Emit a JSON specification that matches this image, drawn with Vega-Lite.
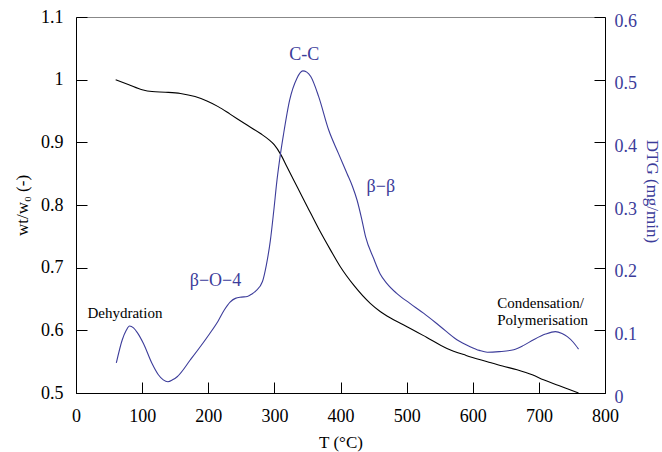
{
  "$schema": "https://vega.github.io/schema/vega-lite/v6.json",
  "width": 529,
  "height": 376,
  "autosize": "none",
  "padding": {"left": 76, "top": 17, "right": 57, "bottom": 59},
  "config": {
    "font": "Liberation Serif",
    "view": {"stroke": "#888888", "strokeWidth": 1},
    "axis": {"grid": false, "titleFontWeight": "normal", "domainColor": "#000000", "tickColor": "#000000", "domainWidth": 1, "tickWidth": 1, "labelFontSize": 18, "titleFontSize": 17, "labelColor": "#000000", "titleColor": "#000000"}
  },
  "datasets": {
    "wt": [
      {"T": 60, "wt": 1.000}, {"T": 80, "wt": 0.992}, {"T": 100, "wt": 0.984}, {"T": 115, "wt": 0.981},
      {"T": 135, "wt": 0.980}, {"T": 158, "wt": 0.978}, {"T": 180, "wt": 0.973}, {"T": 198, "wt": 0.966},
      {"T": 215, "wt": 0.957}, {"T": 233, "wt": 0.945}, {"T": 255, "wt": 0.930}, {"T": 279, "wt": 0.914},
      {"T": 292, "wt": 0.904}, {"T": 300, "wt": 0.896}, {"T": 310, "wt": 0.880}, {"T": 319, "wt": 0.861},
      {"T": 335, "wt": 0.828}, {"T": 350, "wt": 0.797}, {"T": 367, "wt": 0.762}, {"T": 385, "wt": 0.728},
      {"T": 400, "wt": 0.701}, {"T": 420, "wt": 0.672}, {"T": 445, "wt": 0.643}, {"T": 460, "wt": 0.630},
      {"T": 475, "wt": 0.620}, {"T": 495, "wt": 0.609}, {"T": 530, "wt": 0.589}, {"T": 561, "wt": 0.571},
      {"T": 590, "wt": 0.560}, {"T": 622, "wt": 0.550}, {"T": 645, "wt": 0.543}, {"T": 667, "wt": 0.537},
      {"T": 690, "wt": 0.529}, {"T": 707, "wt": 0.521}, {"T": 730, "wt": 0.512}, {"T": 745, "wt": 0.506},
      {"T": 760, "wt": 0.500}
    ],
    "dtg": [
      {"T": 61, "DTG": 0.048}, {"T": 70, "DTG": 0.085}, {"T": 76, "DTG": 0.100}, {"T": 81, "DTG": 0.107},
      {"T": 87, "DTG": 0.104}, {"T": 93, "DTG": 0.096}, {"T": 102, "DTG": 0.079}, {"T": 115, "DTG": 0.047},
      {"T": 124, "DTG": 0.030}, {"T": 132, "DTG": 0.021}, {"T": 139, "DTG": 0.018}, {"T": 146, "DTG": 0.021},
      {"T": 153, "DTG": 0.026}, {"T": 173, "DTG": 0.053}, {"T": 201, "DTG": 0.093}, {"T": 215, "DTG": 0.115},
      {"T": 224, "DTG": 0.132}, {"T": 233, "DTG": 0.145}, {"T": 241, "DTG": 0.151}, {"T": 250, "DTG": 0.153},
      {"T": 259, "DTG": 0.154}, {"T": 266, "DTG": 0.158}, {"T": 272, "DTG": 0.163}, {"T": 282, "DTG": 0.178},
      {"T": 288, "DTG": 0.205}, {"T": 294, "DTG": 0.244}, {"T": 299, "DTG": 0.290}, {"T": 304, "DTG": 0.340},
      {"T": 309, "DTG": 0.380}, {"T": 314, "DTG": 0.414}, {"T": 323, "DTG": 0.467}, {"T": 334, "DTG": 0.502},
      {"T": 343, "DTG": 0.514}, {"T": 349, "DTG": 0.512}, {"T": 355, "DTG": 0.505}, {"T": 367, "DTG": 0.473},
      {"T": 382, "DTG": 0.420}, {"T": 397, "DTG": 0.382}, {"T": 410, "DTG": 0.350}, {"T": 418, "DTG": 0.330},
      {"T": 425, "DTG": 0.308}, {"T": 432, "DTG": 0.278}, {"T": 438, "DTG": 0.249}, {"T": 450, "DTG": 0.215},
      {"T": 460, "DTG": 0.190}, {"T": 470, "DTG": 0.175}, {"T": 485, "DTG": 0.159}, {"T": 505, "DTG": 0.143},
      {"T": 526, "DTG": 0.127}, {"T": 550, "DTG": 0.107}, {"T": 576, "DTG": 0.085}, {"T": 596, "DTG": 0.074},
      {"T": 610, "DTG": 0.068}, {"T": 622, "DTG": 0.065}, {"T": 640, "DTG": 0.066}, {"T": 662, "DTG": 0.069},
      {"T": 677, "DTG": 0.076}, {"T": 692, "DTG": 0.085}, {"T": 710, "DTG": 0.094}, {"T": 725, "DTG": 0.098},
      {"T": 735, "DTG": 0.095}, {"T": 743, "DTG": 0.090}, {"T": 752, "DTG": 0.081}, {"T": 760, "DTG": 0.070}
    ],
    "blueLabels": [
      {"label": "C-C", "T": 345, "DTG": 0.539},
      {"label": "β−O−4", "T": 211, "DTG": 0.178},
      {"label": "β−β", "T": 461, "DTG": 0.329}
    ],
    "blackCenter": [
      {"label": "Dehydration", "T": 74, "DTG": 0.128}
    ],
    "blackLeft": [
      {"label": "Condensation/", "T": 637, "DTG": 0.143},
      {"label": "Polymerisation", "T": 637, "DTG": 0.117}
    ]
  },
  "layer": [
    {
      "data": {"name": "wt"},
      "mark": {"type": "line", "color": "#000000", "strokeWidth": 1.1, "interpolate": "monotone"},
      "encoding": {
        "x": {
          "field": "T", "type": "quantitative",
          "scale": {"domain": [0, 800], "nice": false, "zero": false},
          "axis": {"values": [0, 100, 200, 300, 400, 500, 600, 700, 800], "format": "d", "tickSize": -11, "labelPadding": 25, "title": "T (°C)", "titleY": 41, "titleBaseline": "top", "labelFlush": false}
        },
        "y": {
          "field": "wt", "type": "quantitative",
          "scale": {"domain": [0.5, 1.1], "nice": false, "zero": false},
          "axis": {"orient": "left", "values": [0.5, 0.6, 0.7, 0.8, 0.9, 1.0, 1.1], "format": "~g", "tickSize": -11, "labelPadding": 24, "title": "wt/w₀ (-)", "titleX": -54, "titleY": 188, "titleBaseline": "middle", "titleAlign": "center", "labelFlush": false}
        }
      }
    },
    {
      "layer": [
        {
          "data": {"name": "dtg"},
          "mark": {"type": "line", "color": "#3c3c9a", "strokeWidth": 1.1, "interpolate": "monotone"},
          "encoding": {
            "x": {"field": "T", "type": "quantitative"},
            "y": {
              "field": "DTG", "type": "quantitative",
              "scale": {"domain": [0, 0.6], "nice": false, "zero": false},
              "axis": {"orient": "right", "values": [0, 0.1, 0.2, 0.3, 0.4, 0.5, 0.6], "format": "~g", "tickSize": -11, "labelPadding": 20, "labelOffset": 4, "labelColor": "#3c3c9a", "titleColor": "#3c3c9a", "title": "DTG (mg/min)", "titleX": 46, "titleY": 174, "titleBaseline": "middle", "titleAlign": "center", "labelFlush": false}
            }
          }
        },
        {
          "data": {"name": "blueLabels"},
          "mark": {"type": "text", "color": "#3c3c9a", "fontSize": 18, "align": "center", "baseline": "middle"},
          "encoding": {
            "x": {"field": "T", "type": "quantitative"},
            "y": {"field": "DTG", "type": "quantitative"},
            "text": {"field": "label"}
          }
        },
        {
          "data": {"name": "blackCenter"},
          "mark": {"type": "text", "color": "#000000", "fontSize": 15, "align": "center", "baseline": "middle"},
          "encoding": {
            "x": {"field": "T", "type": "quantitative"},
            "y": {"field": "DTG", "type": "quantitative"},
            "text": {"field": "label"}
          }
        },
        {
          "data": {"name": "blackLeft"},
          "mark": {"type": "text", "color": "#000000", "fontSize": 15, "align": "left", "baseline": "middle"},
          "encoding": {
            "x": {"field": "T", "type": "quantitative"},
            "y": {"field": "DTG", "type": "quantitative"},
            "text": {"field": "label"}
          }
        }
      ]
    }
  ],
  "resolve": {"scale": {"y": "independent"}}
}
